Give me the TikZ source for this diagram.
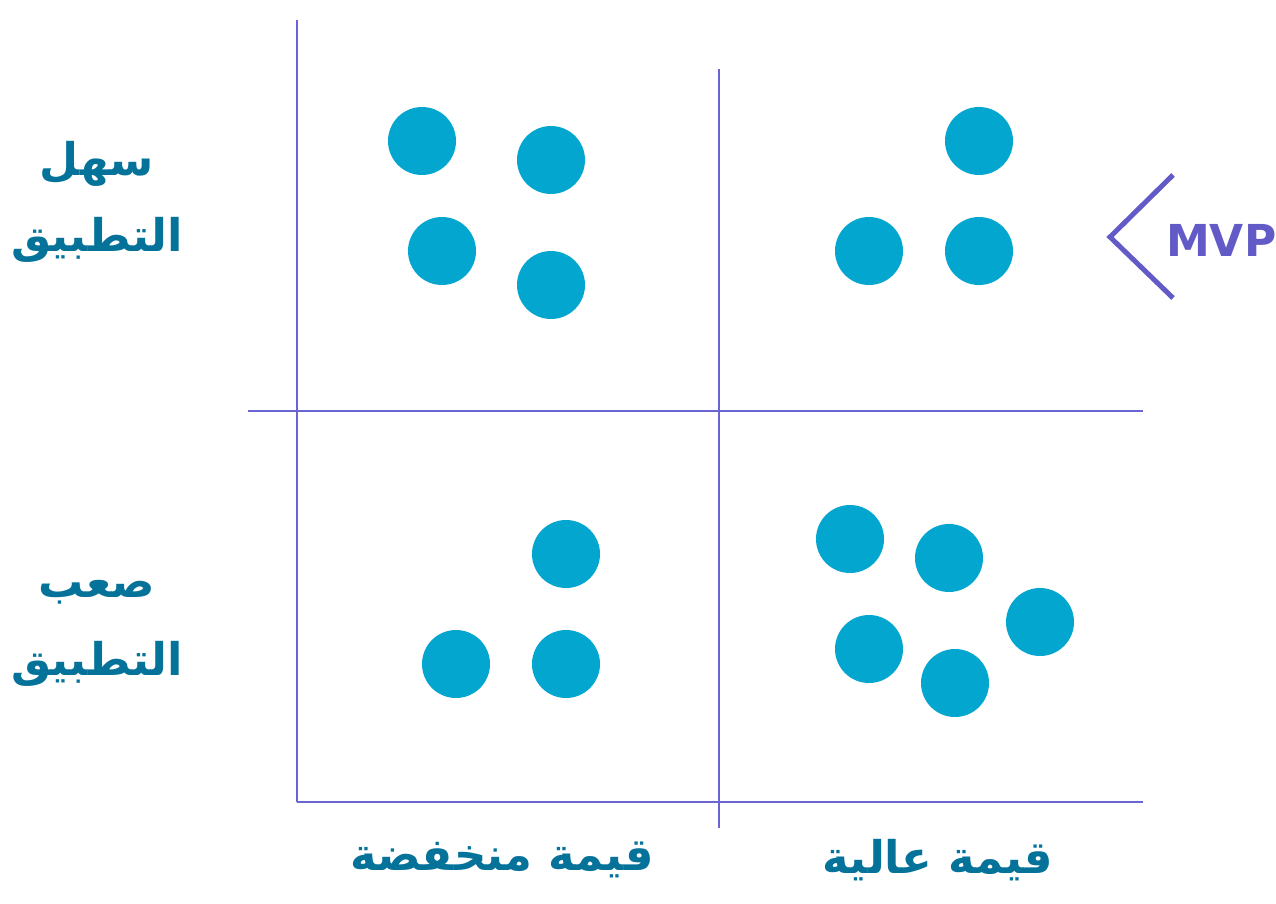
\documentclass[tikz,border=0pt]{standalone}
\usepackage{fontspec}
\TeXXeTstate=1
\newfontfamily\arabicfont[Script=Arabic]{DejaVu Sans}
\newfontfamily\latinfont{DejaVu Sans}
\definecolor{gridc}{HTML}{6B64D3}
\definecolor{dotc}{HTML}{02A6CF}
\definecolor{textc}{HTML}{047299}
\definecolor{mvpc}{HTML}{625AC6}
\tikzset{
  gridline/.style={draw=gridc, line width=2.2pt},
  dot/.style={circle, fill=dotc, minimum size=68pt, inner sep=0pt},
  arlabel/.style={text=textc, font=\arabicfont\bfseries\fontsize{45}{50}\selectfont, inner sep=0pt},
  mvplabel/.style={text=mvpc, font=\latinfont\bfseries\fontsize{44}{48}\selectfont, inner sep=0pt}
}
\begin{document}
\begin{tikzpicture}[x=1pt,y=-1pt]
\useasboundingbox (0,0) rectangle (1276,904);
% grid
\coordinate (lt) at (297,20);
\coordinate (lb) at (297,802);
\coordinate (mt) at (719,69);
\coordinate (mb) at (719,828);
\coordinate (hl) at (248,411);
\coordinate (hr) at (1143,411);
\coordinate (br) at (1143,802);
\draw[gridline] (lt) -- (lb);
\draw[gridline] (mt) -- (mb);
\draw[gridline] (hl) -- (hr);
\draw[gridline] (lb) -- (br);
% dots top-left
\node[dot] (a1) at (422,141) {};
\node[dot] (a2) at (551,160) {};
\node[dot] (a3) at (442,251) {};
\node[dot] (a4) at (551,285) {};
% top-right
\node[dot] (b1) at (979,141) {};
\node[dot] (b2) at (869,251) {};
\node[dot] (b3) at (979,251) {};
% bottom-left
\node[dot] (c1) at (566,554) {};
\node[dot] (c2) at (456,664) {};
\node[dot] (c3) at (566,664) {};
% bottom-right
\node[dot] (d1) at (850,539) {};
\node[dot] (d2) at (949,558) {};
\node[dot] (d3) at (1040,622) {};
\node[dot] (d4) at (869,649) {};
\node[dot] (d5) at (955,683) {};
% labels
\node[arlabel] (e1) at (97,164) {\beginR سهل\endR};
\node[arlabel] (e2) at (97,240) {\beginR التطبيق\endR};
\node[arlabel] (h1) at (97,592) {\beginR صعب\endR};
\node[arlabel] (h2) at (97,664) {\beginR التطبيق\endR};
\node[arlabel] (lo) at (502,860) {\beginR قيمة منخفضة\endR};
\node[arlabel] (hi) at (938,860) {\beginR قيمة عالية\endR};
% MVP
\coordinate (v1) at (1173,175);
\coordinate (v2) at (1110,237);
\coordinate (v3) at (1173,298);
\draw[draw=mvpc, line width=5pt] (v1) -- (v2) -- (v3);
\node[mvplabel, anchor=west] (mvp) at (1166,240) {MVP};
\end{tikzpicture}
\end{document}
